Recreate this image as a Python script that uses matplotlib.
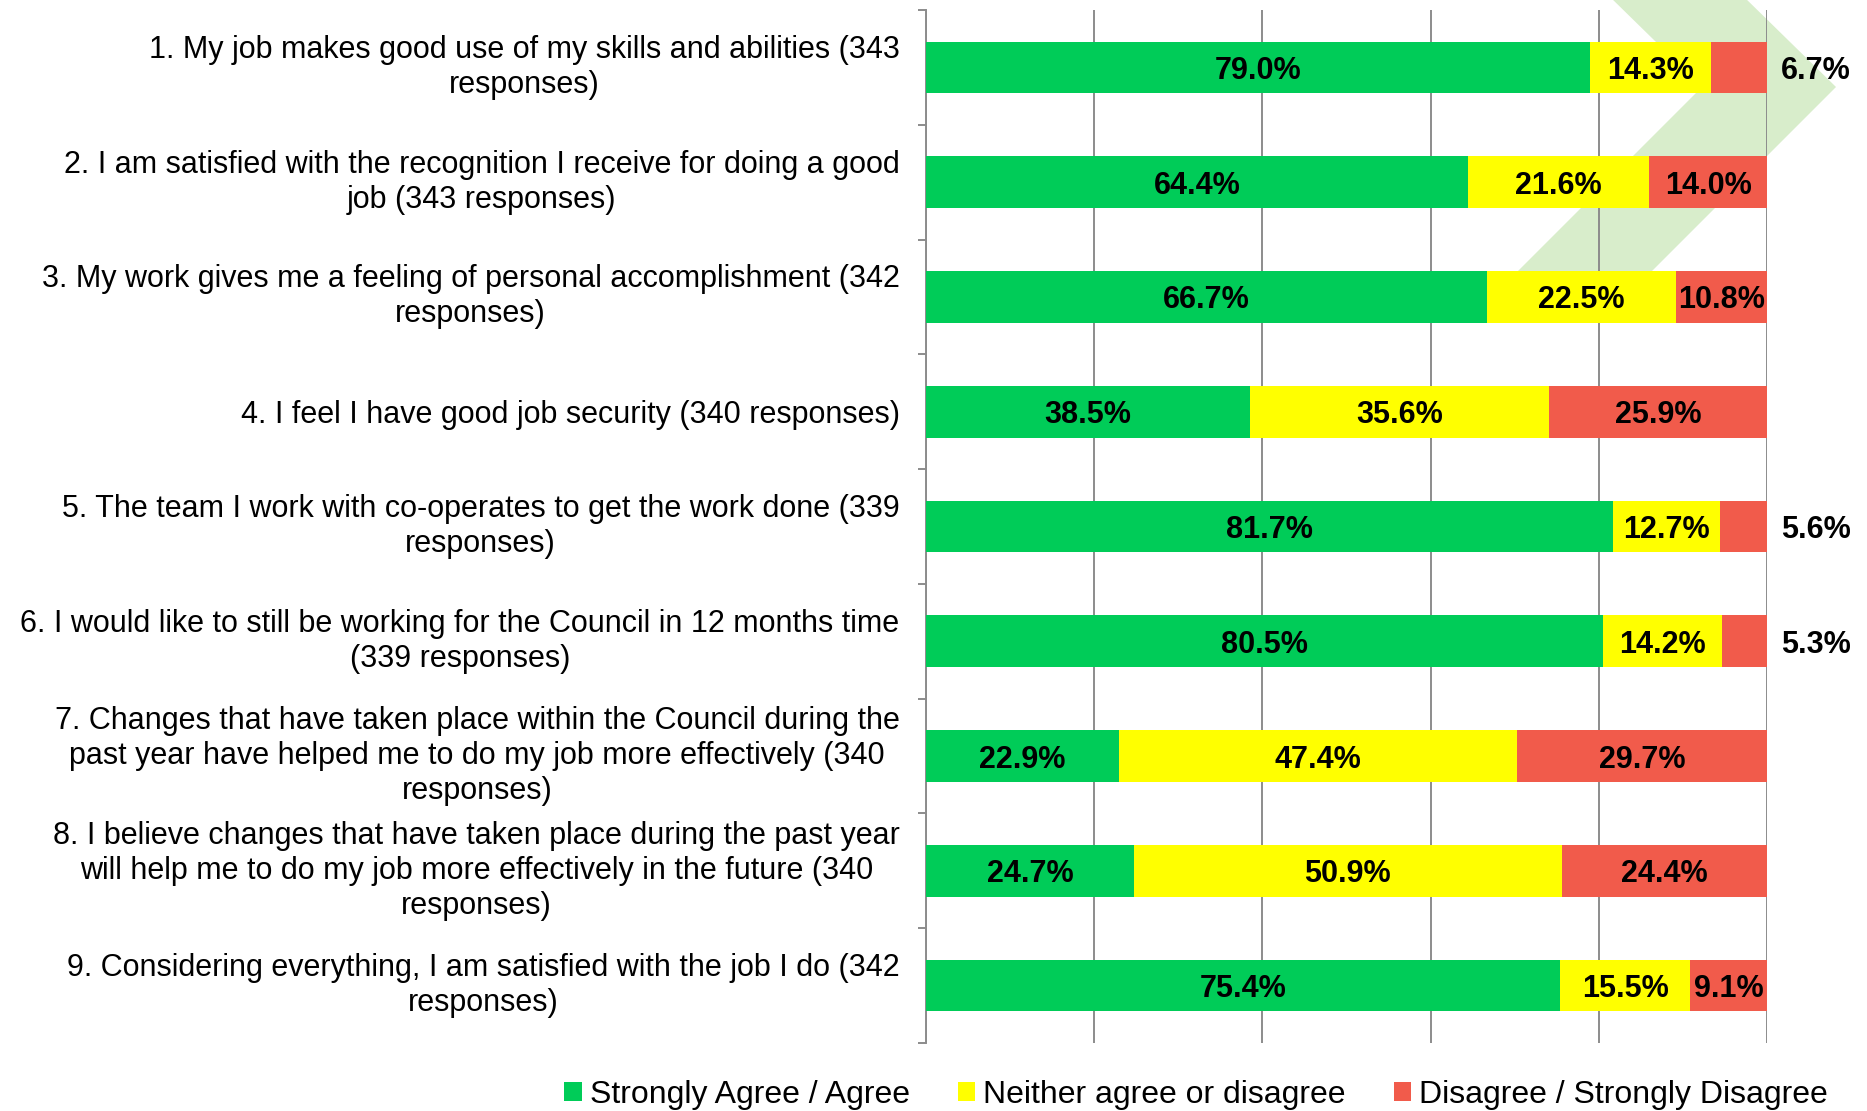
import matplotlib
matplotlib.use("Agg")
import matplotlib.pyplot as plt
from matplotlib.patches import Polygon, Patch
import numpy as np

plt.rcParams['font.family'] = ['Liberation Sans', 'DejaVu Sans']

questions = [
    "1. My job makes good use of my skills and abilities (343\nresponses)",
    "2. I am satisfied with the recognition I receive for doing a good\njob (343 responses)",
    "3. My work gives me a feeling of personal accomplishment (342\nresponses)",
    "4. I feel I have good job security (340 responses)",
    "5. The team I work with co-operates to get the work done (339\nresponses)",
    "6. I would like to still be working for the Council in 12 months time\n(339 responses)",
    "7. Changes that have taken place within the Council during the\npast year have helped me to do my job more effectively (340\nresponses)",
    "8. I believe changes that have taken place during the past year\nwill help me to do my job more effectively in the future (340\nresponses)",
    "9. Considering everything, I am satisfied with the job I do (342\nresponses)",
]
agree = [79.0, 64.4, 66.7, 38.5, 81.7, 80.5, 22.9, 24.7, 75.4]
neither = [14.3, 21.6, 22.5, 35.6, 12.7, 14.2, 47.4, 50.9, 15.5]
disagree = [6.7, 14.0, 10.8, 25.9, 5.6, 5.3, 29.7, 24.4, 9.1]
series_names = ["Strongly Agree / Agree", "Neither agree or disagree",
                "Disagree / Strongly Disagree"]
series_colors = ["#00CC58", "#FFFF00", "#F15B4B"]

W, H = 1867, 1111
fig = plt.figure(figsize=(W / 100, H / 100), dpi=100)
fig.patch.set_facecolor("white")

# decorative chevron behind the plot (figure pixel coordinates)
def px(x, y):
    return (x / W, 1 - y / H)

chev = [(1608, -5), (1742, -5), (1836, 87), (1633, 290), (1499, 290), (1702, 87)]
fig.add_artist(Polygon([px(x, y) for x, y in chev], closed=True,
                       facecolor="#D8EDCB", edgecolor="none",
                       transform=fig.transFigure, zorder=0))

ax = fig.add_axes([926 / W, 1 - 1043 / H, (1767 - 926) / W, (1043 - 10) / H])
ax.set_facecolor("none")

y = np.arange(len(questions))
bar_h = 0.45
series = [agree, neither, disagree]
left = np.zeros(len(questions))
for vals, name, col in zip(series, series_names, series_colors):
    vals = np.array(vals)
    ax.barh(y, vals, left=left, height=bar_h, color=col, label=name,
            zorder=3, edgecolor="none")
    for yi, l, v in zip(y, left, vals):
        if v >= 8:
            ax.text(l + v / 2, yi, f"{v:.1f}%", ha="center", va="center_baseline",
                    fontsize=22, fontweight="bold", color="black", zorder=4)
        else:
            ax.text(105.8, yi, f"{v:.1f}%", ha="center", va="center_baseline",
                    fontsize=22, fontweight="bold", color="black", zorder=4,
                    clip_on=False)
    left = left + vals

ax.set_xlim(0, 100)
ax.set_ylim(len(questions) - 0.5, -0.5)

ax.set_xticks([0, 20, 40, 60, 80, 100])
ax.tick_params(axis="x", length=0, labelbottom=False)
ax.grid(axis="x", color="#8C8C8C", linewidth=1.4, zorder=1)
ax.set_axisbelow(True)

ax.set_yticks(y)
ax.set_yticklabels(questions, fontsize=22, ha="right", multialignment="center",
                   linespacing=1.22)
for lab in ax.get_yticklabels():
    if "\n" in lab.get_text():
        lab.set_va("center")
ax.tick_params(axis="y", which="major", length=0, pad=19)
ax.set_yticks(np.arange(-0.5, len(questions), 1.0), minor=True)
ax.tick_params(axis="y", which="minor", length=6, width=1.4, color="#8C8C8C",
               direction="out")

for s in ["top", "right", "bottom"]:
    ax.spines[s].set_visible(False)
ax.spines["left"].set_color("#8C8C8C")
ax.spines["left"].set_linewidth(1.4)

handles = [Patch(facecolor=c, edgecolor="none") for c in series_colors]
fig.legend(handles, series_names, loc="center", ncol=3,
           bbox_to_anchor=(1196 / W, 1 - 1095 / H), frameon=False,
           fontsize=23, handlelength=0.55, handleheight=0.55,
           handletextpad=0.25, columnspacing=1.5, borderaxespad=0,
           borderpad=0)

fig.savefig("out.png", dpi=100, facecolor="white")
